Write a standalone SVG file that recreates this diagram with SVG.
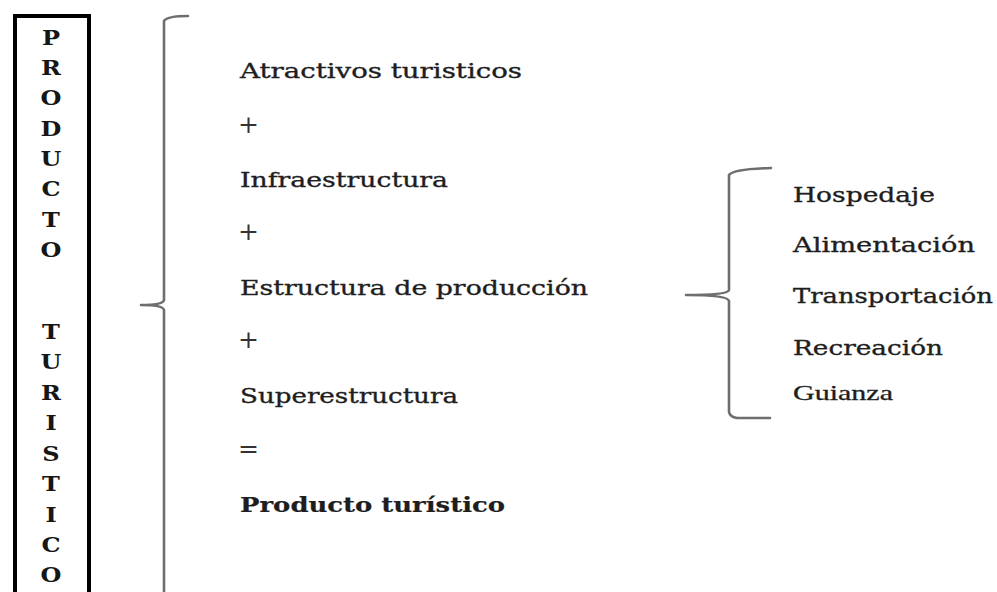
<svg xmlns="http://www.w3.org/2000/svg" width="997" height="592" viewBox="0 0 997 592">
  <style>
    .v { font-family: "DejaVu Serif", "Liberation Serif", serif; font-weight: bold; font-size: 20px; fill: #161616; text-anchor: middle; }
    .t { font-family: "DejaVu Serif", "Liberation Serif", serif; font-size: 20px; fill: #1e1e1e; stroke: #1e1e1e; stroke-width: 0.35; }
    .op { font-family: "DejaVu Serif", "Liberation Serif", serif; font-size: 25px; fill: #333; }
    .b { font-weight: bold; stroke-width: 0.2; }
    .g { font-family: "Liberation Serif", "Times New Roman", serif; font-size: 21px; fill: #1e1e1e; stroke: #1e1e1e; stroke-width: 0.3; }
    .br { fill: none; stroke: #6e6e6e; stroke-width: 2.6; stroke-linecap: round; stroke-linejoin: round; }
  </style>
  <rect x="0" y="0" width="997" height="592" fill="#ffffff"/>

  <g id="title-box">
    <rect x="15" y="16" width="74" height="600" fill="none" stroke="#000" stroke-width="4"/>
    <g transform="translate(51,0) scale(1.2,1)">
      <text class="v" x="0" y="45">P</text>
      <text class="v" x="0" y="75">R</text>
      <text class="v" x="0" y="105">O</text>
      <text class="v" x="0" y="136">D</text>
      <text class="v" x="0" y="166">U</text>
      <text class="v" x="0" y="196">C</text>
      <text class="v" x="0" y="227">T</text>
      <text class="v" x="0" y="257">O</text>
      <text class="v" x="0" y="339">T</text>
      <text class="v" x="0" y="369.5">U</text>
      <text class="v" x="0" y="400">R</text>
      <text class="v" x="0" y="430.5">I</text>
      <text class="v" x="0" y="461">S</text>
      <text class="v" x="0" y="491">T</text>
      <text class="v" x="0" y="521.5">I</text>
      <text class="v" x="0" y="552">C</text>
      <text class="v" x="0" y="582.5">O</text>
    </g>
  </g>

  <g id="connectors">
    <path class="br" d="M188,16 Q167,16 164,21 L164,300 Q163,305 141,305 Q163,305 164,310 L164,600"/>
    <path class="br" d="M771,168 Q733,169 729,175 L729,290 Q728,295 686,295 Q728,295 729,301 L729,412 Q730,417 737,418 L770,418"/>
  </g>

  <g id="formula">
    <text class="t" x="240" y="78" textLength="282" lengthAdjust="spacingAndGlyphs">Atractivos turisticos</text>
    <text class="op" x="238" y="133">+</text>
    <text class="t" x="240" y="187" textLength="208" lengthAdjust="spacingAndGlyphs">Infraestructura</text>
    <text class="op" x="238" y="240">+</text>
    <text class="t" x="240" y="295" textLength="348" lengthAdjust="spacingAndGlyphs">Estructura de producción</text>
    <text class="op" x="238" y="348">+</text>
    <text class="t" x="240" y="403" textLength="218" lengthAdjust="spacingAndGlyphs">Superestructura</text>
    <text class="op" x="238" y="457">=</text>
    <text class="t b" x="240" y="512" textLength="265" lengthAdjust="spacingAndGlyphs">Producto turístico</text>
  </g>

  <g id="services">
    <text class="t" x="793" y="202" textLength="142" lengthAdjust="spacingAndGlyphs">Hospedaje</text>
    <text class="t" x="793" y="252" textLength="182" lengthAdjust="spacingAndGlyphs">Alimentación</text>
    <text class="t" x="793" y="303" textLength="200" lengthAdjust="spacingAndGlyphs">Transportación</text>
    <text class="t" x="793" y="355" textLength="150" lengthAdjust="spacingAndGlyphs">Recreación</text>
    <text class="g" x="793" y="400" textLength="100" lengthAdjust="spacingAndGlyphs">Guianza</text>
  </g>
</svg>
